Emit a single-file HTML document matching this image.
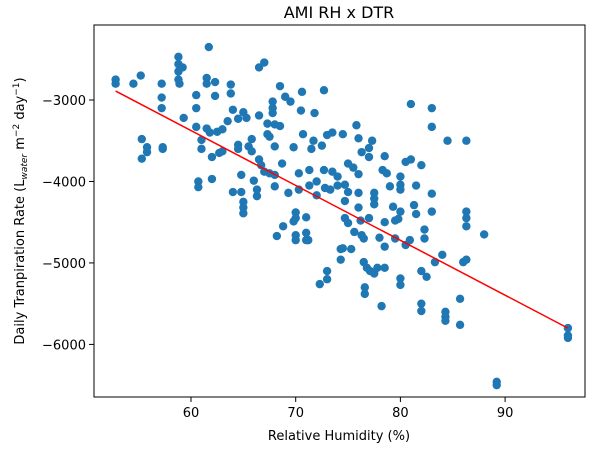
<!DOCTYPE html>
<html><head><meta charset="utf-8"><style>
html,body{margin:0;padding:0;background:#fff;}
svg text{font-family:"DejaVu Sans","Liberation Sans",sans-serif;fill:#000;}
</style></head><body>
<svg id="chart" width="600" height="453" viewBox="0 0 600 453" xmlns="http://www.w3.org/2000/svg">
<rect width="600" height="453" fill="#fff"/>
<g id="marks"></g>
<g id="fit"></g>
<rect x="94" y="25" width="491" height="372" fill="none" stroke="#000" stroke-width="1"/>
<g id="xticks"></g>
<g id="yticks"></g>
<text x="339" y="18" text-anchor="middle" font-size="16">AMI RH x DTR</text>
<text x="339" y="440" text-anchor="middle" font-size="13">Relative Humidity (%)</text>
<text transform="translate(24,211) rotate(-90)" text-anchor="middle" font-size="13">Daily Tranpiration Rate (L<tspan font-size="9" font-style="italic" dy="3">water</tspan><tspan dy="-3"> m</tspan><tspan font-size="9" dy="-5">−2</tspan><tspan dy="5"> day</tspan><tspan font-size="9" dy="-5">−1</tspan><tspan dy="5">)</tspan></text>
</svg>
<script>
const rh = [52.8,52.8,54.5,55.2,55.3,55.3,55.8,55.8,57.2,57.2,57.2,57.3,57.3,58.8,58.8,58.8,58.8,59.2,58.9,59.3,60.5,60.5,60.5,60.7,60.7,61.0,61.0,61.5,61.5,61.7,61.5,61.8,62.0,62.0,62.3,62.5,62.3,62.7,63.0,63.0,63.5,63.8,63.8,64.0,64.0,64.5,64.5,64.5,64.8,64.8,65.0,65.0,65.0,65.0,65.3,65.5,65.8,65.8,66.0,66.3,66.3,66.5,66.5,66.5,66.7,67.0,67.0,67.3,67.3,67.5,67.5,67.8,67.8,67.8,68.0,68.0,68.0,68.0,68.2,68.5,68.5,68.7,68.8,69.0,69.3,69.5,69.8,69.8,70.0,70.0,70.0,70.0,70.3,70.3,70.5,70.6,70.7,71.0,71.0,71.0,71.2,71.3,71.3,71.5,71.7,71.8,72.0,72.0,72.3,72.5,72.7,72.7,72.8,73.0,73.0,73.0,73.3,73.5,73.5,74.0,74.0,74.3,74.3,74.5,74.5,74.7,74.7,74.7,75.0,75.0,75.0,75.3,75.5,75.6,75.8,76.0,76.0,76.0,76.0,76.2,76.3,76.3,76.5,76.5,76.6,76.6,76.8,77.0,77.0,77.0,77.1,77.3,77.5,77.5,77.5,77.5,77.8,78.0,78.2,78.3,78.5,78.5,78.5,78.5,78.7,79.0,79.3,79.5,79.5,79.8,80.0,80.0,80.0,80.0,80.0,80.0,80.5,80.5,80.9,81.0,81.0,81.3,81.5,81.5,82.0,82.0,82.0,82.0,82.3,82.3,82.5,83.0,83.0,83.0,83.0,83.3,84.0,84.3,84.3,84.3,84.5,85.7,85.7,86.0,86.3,86.3,86.3,86.3,86.3,88.0,89.2,89.2,96.0,96.0,96.0];
const dtr = [-2750,-2800,-2800,-2700,-3480,-3720,-3580,-3640,-2800,-2970,-3100,-3580,-3600,-2470,-2560,-2650,-2750,-2600,-2800,-3220,-2940,-3100,-3330,-4000,-4070,-3490,-3600,-2730,-2800,-2350,-3350,-3400,-3700,-3970,-2780,-3390,-2950,-3650,-3360,-3630,-3260,-2810,-2920,-3120,-4130,-3230,-3550,-3600,-3920,-4130,-4250,-4320,-4390,-3150,-3220,-3570,-3630,-3480,-3990,-4100,-4180,-2600,-3190,-3730,-3800,-2540,-3880,-3290,-3420,-3450,-3900,-3020,-3100,-3160,-3300,-3570,-4060,-3920,-4670,-2830,-3320,-3780,-4550,-2960,-4140,-3020,-4490,-3580,-4380,-4450,-4660,-4720,-3900,-4100,-3130,-2900,-3420,-4440,-4630,-4720,-4720,-3860,-4050,-3600,-3500,-3160,-4000,-4170,-5260,-3560,-2880,-3860,-4080,-3430,-5100,-5200,-4100,-3400,-3880,-3940,-4050,-4830,-4960,-3420,-4820,-4040,-4240,-4450,-4510,-3780,-4130,-4830,-3830,-4620,-3310,-3470,-3910,-4140,-4320,-4480,-4660,-3640,-4700,-4990,-5300,-5380,-5060,-3590,-3700,-4450,-5100,-3500,-4140,-4210,-4280,-5130,-5060,-4690,-5530,-3860,-3690,-4500,-4800,-5060,-3900,-4060,-4310,-4480,-4700,-4460,-3940,-4040,-4100,-5190,-5270,-4370,-3760,-4780,-4720,-3050,-3730,-4290,-4050,-4400,-3800,-5100,-5500,-5590,-4590,-4700,-5170,-3100,-3330,-4150,-4370,-4990,-4900,-5600,-5660,-5710,-3500,-5440,-5760,-4990,-3500,-4370,-4450,-4550,-4960,-4650,-6460,-6500,-5800,-5890,-5920];
const fitX = [52.8, 96.0];
const fitY = [-2890, -5800];
const xTicks = [60,70,80,90];
const yTicks = [-3000,-4000,-5000,-6000];
const yTickLabels = ["−3000","−4000","−5000","−6000"];

const NS='http://www.w3.org/2000/svg';
function sx(v){return 191 + (v-60)*10.47;}
function sy(v){return 100 + (-3000 - v)*0.08147;}
const marks=document.getElementById('marks');
for(let i=0;i<rh.length;i++){
  const c=document.createElementNS(NS,'circle');
  c.setAttribute('cx',sx(rh[i]));c.setAttribute('cy',sy(dtr[i]));
  c.setAttribute('r',4.2);c.setAttribute('fill','#1f77b4');
  
  
  marks.appendChild(c);
}
const ln=document.createElementNS(NS,'line');
ln.setAttribute('x1',sx(fitX[0]));ln.setAttribute('y1',sy(fitY[0]));
ln.setAttribute('x2',sx(fitX[1]));ln.setAttribute('y2',sy(fitY[1]));
ln.setAttribute('stroke','#ff0000');ln.setAttribute('stroke-width','1.5');


document.getElementById('fit').appendChild(ln);

const xg=document.getElementById('xticks');
xTicks.forEach(t=>{
  const l=document.createElementNS(NS,'line');
  l.setAttribute('x1',sx(t));l.setAttribute('x2',sx(t));l.setAttribute('y1',397);l.setAttribute('y2',402);l.setAttribute('stroke','#000');
  
  
  xg.appendChild(l);
  const tx=document.createElementNS(NS,'text');
  tx.setAttribute('x',sx(t));tx.setAttribute('y',417);tx.setAttribute('text-anchor','middle');tx.setAttribute('font-size','13');
  tx.textContent=t;
  
  
  xg.appendChild(tx);
});
const yg=document.getElementById('yticks');
yTicks.forEach((t,i)=>{
  const l=document.createElementNS(NS,'line');
  l.setAttribute('x1',89);l.setAttribute('x2',94);l.setAttribute('y1',sy(t));l.setAttribute('y2',sy(t));l.setAttribute('stroke','#000');
  
  
  yg.appendChild(l);
  const tx=document.createElementNS(NS,'text');
  tx.setAttribute('x',86);tx.setAttribute('y',sy(t)+5);tx.setAttribute('text-anchor','end');tx.setAttribute('font-size','13');
  tx.textContent=yTickLabels[i];
  
  
  yg.appendChild(tx);
});
</script>
</body></html>
